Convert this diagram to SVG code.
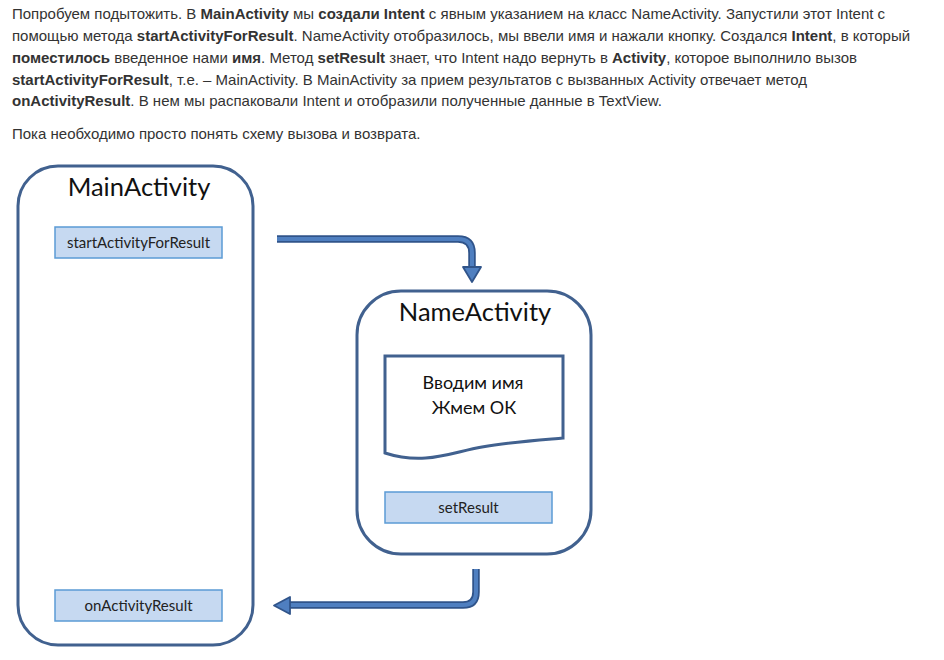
<svg xmlns="http://www.w3.org/2000/svg" width="944" height="660" viewBox="0 0 944 660">
<style>
.p{font-family:"Liberation Sans",Arial,sans-serif;font-size:15px;fill:#333}
.b{font-weight:bold}
.frame{fill:#fff;stroke:#41618f;stroke-width:3}
.title{font-family:Lato,"Open Sans",sans-serif;font-size:25.5px;fill:#111;text-anchor:middle}
.m{fill:#c6d9f1;stroke:#5b9bd5;stroke-width:1.5}
.mt{font-family:Lato,"Open Sans",sans-serif;font-size:15px;fill:#222;text-anchor:middle}
.dt{font-family:Lato,"Open Sans",sans-serif;font-size:18px;fill:#111;text-anchor:middle}
.ao{fill:none;stroke:#30548a;stroke-width:7.5;stroke-linejoin:round}
.ai{fill:none;stroke:#4f7fc0;stroke-width:4;stroke-linejoin:round}
.ah{fill:#4f7fc0;stroke:#30548a;stroke-width:1.8;stroke-linejoin:round}
</style>
<rect width="944" height="660" fill="#fff"/>
<g id="text">
<text class="p" x="12" y="19">Попробуем подытожить. В <tspan class="b">MainActivity</tspan> мы <tspan class="b">создали Intent</tspan> с явным указанием на класс NameActivity. Запустили этот Intent с</text>
<text class="p" x="12" y="41">помощью метода <tspan class="b">startActivityForResult</tspan>. NameActivity отобразилось, мы ввели имя и нажали кнопку. Создался <tspan class="b">Intent</tspan>, в который</text>
<text class="p" x="12" y="63"><tspan class="b">поместилось</tspan> введенное нами <tspan class="b">имя</tspan>. Метод <tspan class="b">setResult</tspan> знает, что Intent надо вернуть в <tspan class="b">Activity</tspan>, которое выполнило вызов</text>
<text class="p" x="12" y="85"><tspan class="b">startActivityForResult</tspan>, т.е. – MainActivity. В MainActivity за прием результатов с вызванных Activity отвечает метод</text>
<text class="p" x="12" y="106"><tspan class="b">onActivityResult</tspan>. В нем мы распаковали Intent и отобразили полученные данные в TextView.</text>
<text class="p" x="12" y="139">Пока необходимо просто понять схему вызова и возврата.</text>
</g>
<g id="main">
<rect class="frame" x="18" y="166" width="235" height="479" rx="40"/>
<text class="title" x="139" y="196">MainActivity</text>
<rect class="m" x="55" y="227" width="167" height="31"/>
<text class="mt" x="138.5" y="247.5">startActivityForResult</text>
<rect class="m" x="55" y="590" width="167" height="31"/>
<text class="mt" x="138.5" y="610.5">onActivityResult</text>
</g>
<g id="name">
<rect class="frame" x="357" y="291" width="234" height="263" rx="44"/>
<text class="title" x="475" y="321">NameActivity</text>
<path class="frame" d="M385,356 H563 V438 C540,440 510,442 482,447 C452,452 425,466 385,453 Z" stroke-width="2.5"/>
<text class="dt" x="473" y="389">Вводим имя</text>
<text class="dt" x="474" y="414">Жмем ОК</text>
<rect class="m" x="385" y="492" width="167" height="31"/>
<text class="mt" x="468.5" y="512.5">setResult</text>
</g>
<g id="connectors">
<path class="ao" d="M277,239 H458 Q472,239 472,253 V268"/>
<path class="ai" d="M277,239 H458 Q472,239 472,253 V268"/>
<polygon class="ah" points="463,267 481,267 472,282"/>
<path class="ao" d="M476,569 V592 Q476,605 463,605 H289"/>
<path class="ai" d="M476,569 V592 Q476,605 463,605 H289"/>
<polygon class="ah" points="290,597 290,614 274,605.5"/>
</g>
</svg>
